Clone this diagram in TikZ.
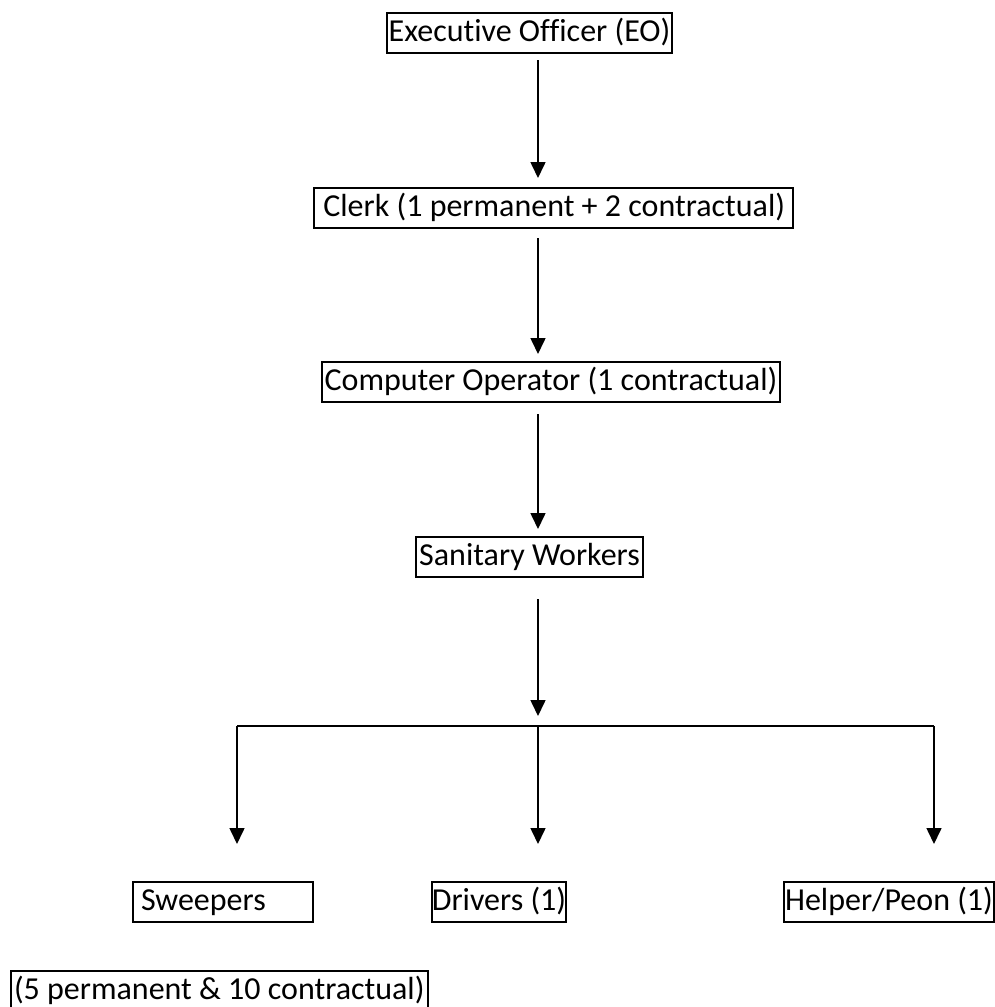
\documentclass[tikz,border=0pt]{standalone}
\usepackage{fontspec}
\setmainfont{Carlito}[Ligatures=NoCommon]
\usetikzlibrary{arrows.meta}
\begin{document}
\begin{tikzpicture}[
		x=1pt,y=-1pt,
		every node/.style={draw,line width=2pt,inner sep=0pt,minimum height=40pt,text height=23pt,text depth=7pt,font=\fontsize{32}{38}\selectfont},
		link/.style={line width=1.6pt},
		arr/.style={link,-{Triangle[length=16pt,width=15pt]}}
		]
		\useasboundingbox (0,0) rectangle (995,1007);
		\node (eo) at (529.5,33) [minimum width=285pt] {Executive Officer (EO)};
		\node (clerk) at (553.5,208) [minimum width=479pt] {\makebox[463pt][r]{Clerk (1 permanent + 2 contractual)}};
		\node (operator) at (551,382) [minimum width=458pt] {Computer Operator (1 contractual)};
		\node (sanitary) at (529.5,557) [minimum width=227pt] {Sanitary Workers};
		\node (sweepers) at (223,902) [minimum width=180pt] {\makebox[164pt][l]{Sweepers}};
		\node (drivers) at (499,902) [minimum width=132pt] {Drivers (1)};
		\node (helper) at (889,902) [minimum width=210pt] {Helper/Peon (1)};
		\node (split) at (10,991) [anchor=west,inner xsep=3pt] {(5 permanent \& 10 contractual)};
		
		\coordinate (spine) at (538,0);
		\coordinate (fork) at (538,726);
		\coordinate (forkl) at (237,726);
		\coordinate (forkr) at (934,726);
		\draw[arr,shorten <=6pt,shorten >=9pt] (eo.south -| spine) -- (clerk.north -| spine);
		\draw[arr,shorten <=9pt,shorten >=7pt] (clerk.south -| spine) -- (operator.north -| spine);
		\draw[arr,shorten <=11pt,shorten >=7pt] (operator.south -| spine) -- (sanitary.north -| spine);
		\draw[arr,shorten <=21pt,shorten >=10pt] (sanitary.south -| spine) -- (fork);
		\draw[link] (forkl) -- (forkr);
		\foreach \c in {forkl,fork,forkr}
			\draw[arr,shorten >=37pt] (\c) -- (\c |- drivers.north);
\end{tikzpicture}
\end{document}
